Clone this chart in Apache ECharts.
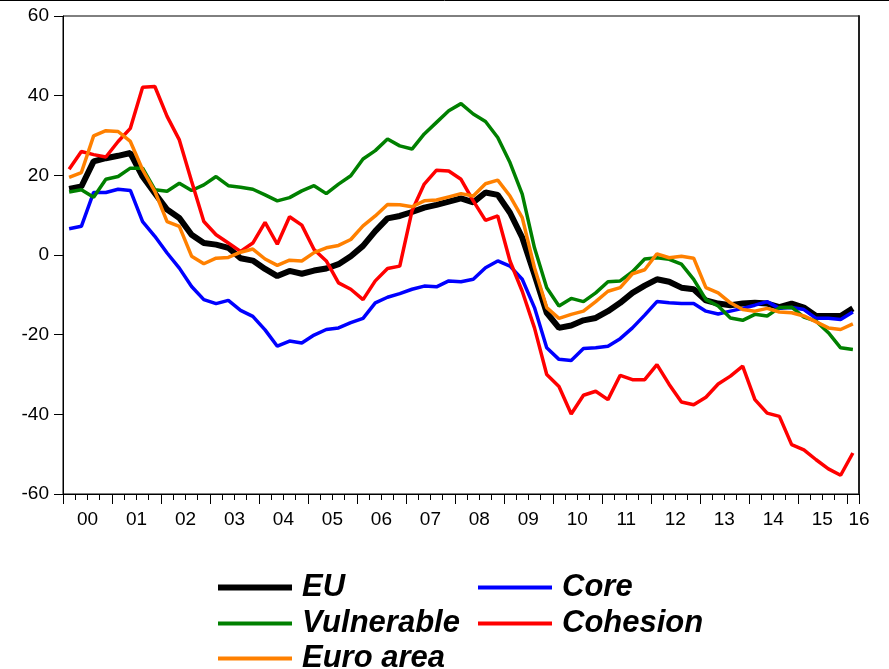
<!DOCTYPE html>
<html>
<head>
<meta charset="utf-8">
<script src="https://cdn.jsdelivr.net/npm/echarts@6/dist/echarts.min.js"></script>
<style>
  html, body { margin: 0; padding: 0; background: #fff; }
  #chart { width: 889px; height: 669px; }
</style>
</head>
<body>
<div id="chart"></div>
<script>
// quarterly, 2000Q1 .. 2016Q1
var yearLabels = ['00','01','02','03','04','05','06','07','08','09','10','11','12','13','14','15','16'];

var euData = [16.6, 17.2, 23.5, 24.3, 24.9, 25.6, 19.7, 15.5, 11.4, 9.3, 5.1, 3.0, 2.6, 1.8, -0.8, -1.4,
  -3.5, -5.3, -4.0, -4.7, -3.9, -3.4, -2.3, -0.3, 2.3, 6.0, 9.2, 9.8, 10.8, 11.9, 12.6, 13.4,
  14.2, 13.2, 15.7, 15.1, 10.6, 4.4, -4.9, -14.5, -18.3, -17.7, -16.4, -15.8, -14.1, -12.0, -9.5, -7.7,
  -6.1, -6.7, -8.2, -8.6, -11.4, -12.2, -12.6, -12.2, -12.0, -12.2, -13.1, -12.2, -13.2, -15.3, -15.3, -15.3,
  -13.4];

var coreData = [6.6, 7.2, 15.7, 15.7, 16.5, 16.2, 8.4, 4.7, 0.5, -3.3, -7.9, -11.2, -12.2, -11.4, -13.9, -15.4,
  -18.8, -22.9, -21.6, -22.1, -20.1, -18.7, -18.3, -17.0, -15.9, -12.0, -10.6, -9.7, -8.6, -7.8, -8.0, -6.5,
  -6.7, -6.1, -3.2, -1.5, -2.8, -6.1, -13.2, -23.3, -26.2, -26.5, -23.5, -23.3, -22.9, -21.0, -18.3, -15.1,
  -11.7, -12.0, -12.2, -12.2, -14.1, -14.8, -14.1, -13.4, -12.6, -11.7, -13.4, -13.2, -13.7, -15.9, -15.9, -16.2,
  -14.3];

var vulnerableData = [15.8, 16.4, 14.5, 19.0, 19.7, 21.8, 21.8, 16.4, 16.0, 18.0, 16.2, 17.6, 19.7, 17.4, 17.0, 16.5,
  15.1, 13.6, 14.4, 16.1, 17.4, 15.4, 17.8, 19.9, 24.1, 26.2, 29.1, 27.4, 26.6, 30.4, 33.3, 36.2,
  38.0, 35.4, 33.5, 29.5, 23.2, 15.3, 1.8, -8.2, -12.8, -10.9, -11.7, -9.5, -6.7, -6.5, -4.2, -1.0,
  -0.7, -1.1, -2.3, -6.1, -11.2, -12.8, -15.8, -16.4, -14.9, -15.3, -13.2, -13.1, -15.6, -16.6, -19.5, -23.3,
  -23.7];

var cohesionData = [21.5, 26.0, 25.2, 24.6, 28.5, 31.8, 42.1, 42.3, 34.8, 28.9, 18.5, 8.4, 5.1, 3.0, 0.9, 3.0,
  8.2, 2.7, 9.6, 7.5, 1.4, -1.5, -7.0, -8.6, -11.2, -6.5, -3.4, -2.8, 11.1, 17.8, 21.3, 21.1,
  19.0, 13.6, 8.7, 9.8, -1.5, -9.1, -18.3, -30.0, -33.0, -39.9, -35.2, -34.2, -36.3, -30.2, -31.3, -31.3,
  -27.5, -32.5, -36.9, -37.6, -35.7, -32.4, -30.4, -27.9, -36.3, -39.7, -40.5, -47.6, -48.9, -51.4, -53.7, -55.3,
  -49.7];

var euroAreaData = [19.5, 20.7, 29.9, 31.2, 31.0, 28.5, 21.4, 16.0, 8.4, 7.2, -0.3, -2.2, -0.8, -0.6, 0.7, 1.5,
  -1.0, -2.6, -1.3, -1.5, 0.6, 1.8, 2.4, 3.9, 7.3, 9.8, 12.7, 12.6, 12.1, 13.6, 13.8, 14.6,
  15.4, 14.8, 17.9, 18.8, 14.8, 9.4, -3.2, -13.2, -15.9, -14.9, -14.1, -11.7, -9.1, -8.2, -4.7, -3.7,
  0.3, -0.7, -0.3, -0.8, -8.2, -9.5, -12.0, -13.7, -14.1, -13.4, -14.3, -14.5, -15.3, -16.8, -18.3, -18.7,
  -17.3];

var nQuarters = euData.length;

// each observation sits in the middle of its quarter slot
function toPoints(arr) {
  return arr.map(function (v, i) { return [i + 0.5, v]; });
}

var fontFam = '"Liberation Sans", Arial, sans-serif';

function makeLine(name, data, color, width) {
  return {
    name: name,
    type: 'line',
    xAxisIndex: 0,
    yAxisIndex: 0,
    data: toPoints(data),
    symbol: 'none',
    showSymbol: false,
    color: color,
    lineStyle: { color: color, width: width },
    animation: false
  };
}

// one legend box per entry, laid out in two columns like the original
function legendItem(name, left, top, thick) {
  return {
    data: [name],
    left: left, top: top,
    padding: 0,
    icon: 'rect',
    itemWidth: 74, itemHeight: thick,
    textStyle: {
      fontFamily: fontFam,
      fontSize: 31,
      fontWeight: 'bold',
      fontStyle: 'italic',
      color: '#000',
      lineHeight: 30,
      padding: [0, 0, 0, 5]
    }
  };
}

var chart = echarts.init(document.getElementById('chart'));
var option = {
  backgroundColor: '#fff',
  animation: false,
  grid: {
    left: 63, right: 30, top: 16, bottom: 175,
    show: true, borderColor: '#000', borderWidth: 1, backgroundColor: '#fff'
  },
  graphic: [{
    type: 'line',
    shape: { x1: 0, y1: 0.5, x2: 889, y2: 0.5 },
    style: { stroke: '#000', lineWidth: 1 }
  }],
  legend: [
    legendItem('EU', 218, 572, 6),
    legendItem('Vulnerable', 218, 608, 4),
    legendItem('Euro area', 218, 643, 4),
    legendItem('Core', 478, 572, 4),
    legendItem('Cohesion', 478, 608, 4)
  ],
  xAxis: [{
    // quarter ticks + axis line
    type: 'value', position: 'bottom', min: 0, max: nQuarters, interval: 1,
    axisLine: { show: true, onZero: false, lineStyle: { color: '#000', width: 1 } },
    axisTick: { show: true, length: 6, lineStyle: { color: '#000' } },
    axisLabel: { show: false },
    splitLine: { show: false }
  }, {
    // year ticks
    type: 'value', position: 'bottom', min: 0, max: nQuarters, interval: 4,
    axisLine: { show: false, onZero: false },
    axisTick: { show: true, length: 10, lineStyle: { color: '#000' } },
    axisLabel: { show: false },
    splitLine: { show: false }
  }, {
    // year labels, centred in each year
    type: 'value', position: 'bottom', min: 0, max: nQuarters, interval: 2,
    axisLine: { show: false, onZero: false },
    axisTick: { show: false },
    splitLine: { show: false },
    axisLabel: {
      margin: 16, fontSize: 19, color: '#000', fontFamily: fontFam,
      showMinLabel: true, showMaxLabel: true,
      formatter: function (v) {
        if (v === nQuarters) return yearLabels[yearLabels.length - 1];
        if (v % 4 === 2) return yearLabels[(v - 2) / 4];
        return '';
      }
    }
  }],
  yAxis: [{
    type: 'value', position: 'left', min: -60, max: 60, interval: 20,
    axisLine: { show: true, onZero: false, lineStyle: { color: '#000', width: 1 } },
    axisTick: { show: true, length: 9, lineStyle: { color: '#000' } },
    axisLabel: { margin: 14, fontSize: 19, color: '#000', fontFamily: fontFam },
    splitLine: { show: false }
  }, {
    type: 'value', position: 'right', min: -60, max: 60, interval: 20,
    axisLine: { show: true, onZero: false, lineStyle: { color: '#222', width: 2 } },
    axisTick: { show: false },
    axisLabel: { show: false },
    splitLine: { show: false }
  }],
  series: [
    makeLine('EU', euData, '#000000', 6),
    makeLine('Core', coreData, '#0000ff', 3.5),
    makeLine('Vulnerable', vulnerableData, '#008000', 3.5),
    makeLine('Cohesion', cohesionData, '#ff0000', 3.5),
    makeLine('Euro area', euroAreaData, '#ff8000', 3.5)
  ]
};
chart.setOption(option);
</script>
</body>
</html>
